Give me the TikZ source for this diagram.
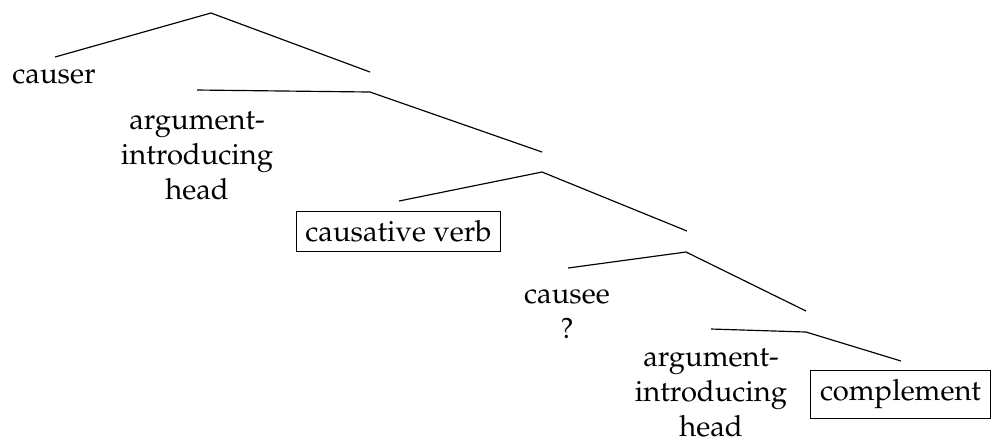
\documentclass[tikz,border=0pt]{standalone}
\usepackage[T1]{fontenc}
\usepackage{mathpazo}
\begin{document}
\begin{tikzpicture}[x=0.3425pt,y=-0.3425pt,
  edge/.style={line width=0.4pt},
  label/.style={inner sep=0pt,align=center,font=\fontsize{10}{12}\selectfont},
  boxed/.style={draw,line width=0.4pt,inner sep=3.2pt,font=\fontsize{10}{12}\selectfont}]
\useasboundingbox (0,0) rectangle (994,439);
% branching points
\coordinate (r1) at (211,13);
\coordinate (r2) at (370,92);
\coordinate (r3) at (542,172);
\coordinate (r4) at (686,252);
\coordinate (r5) at (806,332);
% ends of the edges above each daughter
\coordinate (causerTop) at (55,57);
\coordinate (r2Top) at (370,72);
\coordinate (head1Top) at (197,90);
\coordinate (r3Top) at (542,152);
\coordinate (verbTop) at (399,201);
\coordinate (r4Top) at (687,231);
\coordinate (causeeTop) at (568,268);
\coordinate (r5Top) at (806,311);
\coordinate (head2Top) at (711,329);
\coordinate (complTop) at (901,361);
% leaves
\node[label] (causer) at (54,77) {causer};
\node[label] (head1) at (197,156) {argument-\\introducing\\head};
\node[boxed] (verb) at (398.5,231.5) {causative verb};
\node[label] (causee) at (567,314) {causee\\?};
\node[label] (head2) at (711,393) {argument-\\introducing\\head};
\node[boxed] (compl) at (900.5,394.5) {complement};
% edges
\draw[edge] (causerTop) -- (r1) -- (r2Top);
\draw[edge] (head1Top) -- (r2) -- (r3Top);
\draw[edge] (verbTop) -- (r3) -- (r4Top);
\draw[edge] (causeeTop) -- (r4) -- (r5Top);
\draw[edge] (head2Top) -- (r5) -- (complTop);
\end{tikzpicture}
\end{document}
